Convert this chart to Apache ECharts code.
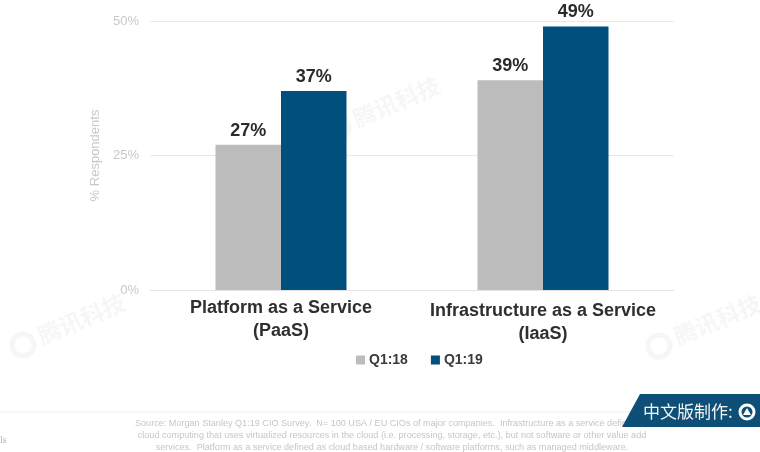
<!DOCTYPE html>
<html>
<head>
<meta charset="utf-8">
<style>html,body{margin:0;padding:0;background:#fff}#c{width:760px;height:452px}</style>
<script src="https://cdn.jsdelivr.net/npm/echarts@6/dist/echarts.min.js"></script>
</head>
<body>
<div id="c"></div>
<script>
const categories = ['Platform as a Service\n(PaaS)', 'Infrastructure as a Service\n(IaaS)'];
const q118 = [27, 39];
const q119 = [37, 49];
const yTicks = [0, 25, 50];
const sourceLines = [
  'Source: Morgan Stanley Q1:19 CIO Survey.  N= 100 USA / EU CIOs of major companies.  Infrastructure as a service defined as',
  'cloud computing that uses virtualized resources in the cloud (i.e. processing, storage, etc.), but not software or other value add',
  'services.  Platform as a service defined as cloud based hardware / software platforms, such as managed middleware.'
];
const FONT = '"Liberation Sans", Arial, sans-serif';
const labelOffsets = [0, 3];

// Faint diagonal publisher mark
function stamp(x, y) {
  const ink = 'rgba(120,120,120,0.065)';
  return {
    type: 'group', x, y, rotation: 0.4, silent: true, z: 20,
    children: [
      { type: 'circle', shape: { cx: 0, cy: 0, r: 11 }, style: { fill: 'none', stroke: ink, lineWidth: 5 } },
      { type: 'text', style: { x: 18, y: -13, text: '腾讯科技', font: '700 23px "Noto Sans CJK SC"', fill: ink } }
    ]
  };
}

const chart = echarts.init(document.getElementById('c'), null, { renderer: 'canvas' });
chart.setOption({
  animation: false,
  backgroundColor: '#fff',
  grid: { left: 150, right: 86, top: 21, bottom: 162 },
  legend: {
    top: 348, left: 351, itemWidth: 9, itemHeight: 9, itemGap: 23,
    icon: 'rect', selectedMode: false,
    textStyle: { fontFamily: FONT, fontWeight: 700, fontSize: 14, color: '#3a3a3a', padding: [0, 0, 0, -1] },
    data: ['Q1:18', 'Q1:19']
  },
  xAxis: {
    type: 'category',
    data: categories.map((value, i) => ({ value, textStyle: { padding: [labelOffsets[i], 0, 0, 0] } })),
    axisTick: { show: false },
    axisLine: { lineStyle: { color: '#e4e4e4', width: 1 } },
    axisLabel: {
      interval: 0, margin: 7, lineHeight: 23,
      fontFamily: FONT, fontWeight: 700, fontSize: 18, color: '#2f2f2f'
    }
  },
  yAxis: {
    type: 'value', min: yTicks[0], max: yTicks[2], interval: 25,
    name: '% Respondents', nameLocation: 'middle', nameGap: 45, nameRotate: 90,
    nameTextStyle: { fontFamily: FONT, fontSize: 13, color: '#c8c8c8' },
    axisLine: { show: false }, axisTick: { show: false },
    axisLabel: { formatter: '{value}%', margin: 11, padding: [4, 0, 0, 0], fontFamily: FONT, fontSize: 13, color: '#c8c8c8' },
    splitLine: { lineStyle: { color: '#e8e8e8', width: 1 } }
  },
  series: [
    { name: 'Q1:18', type: 'bar', data: q118, barWidth: 65.5, barGap: 0, itemStyle: { color: '#bcbcbc' } },
    { name: 'Q1:19', type: 'bar', data: q119, barWidth: 65.5, barGap: 0, itemStyle: { color: '#004f7c' } }
  ].map(s => Object.assign(s, {
    label: {
      show: true, position: 'top', distance: 5, formatter: '{c}%',
      fontFamily: FONT, fontWeight: 700, fontSize: 18, color: '#2b2b2b'
    }
  })),
  graphic: [
    stamp(23, 345), stamp(338, 128), stamp(659, 346),
    { type: 'line', shape: { x1: 0, y1: 412, x2: 640, y2: 412 }, style: { stroke: '#f2f2f2', lineWidth: 1 }, silent: true },
    { type: 'text', style: { x: 0, y: 435, text: 'ls', font: '10px "Liberation Serif"', fill: '#b5b5b5' }, silent: true },
    ...sourceLines.map((t, i) => ({
      type: 'text',
      style: { x: 392, y: 419 + i * 12, text: t, textAlign: 'center', font: '9.1px ' + FONT, fill: '#c6c6c6' },
      silent: true
    })),
    // Translation credit badge
    { type: 'polygon', shape: { points: [[640, 394], [760, 394], [760, 427], [622, 427]] }, style: { fill: '#0d4f76' }, z: 30, silent: true },
    { type: 'text', style: { x: 643, y: 403, text: '中文版制作:', font: '400 17px "Noto Sans CJK SC"', fill: '#f4f4f4' }, z: 31, silent: true },
    { type: 'circle', shape: { cx: 747, cy: 412, r: 7 }, style: { fill: 'none', stroke: '#fff', lineWidth: 3 }, z: 31, silent: true },
    { type: 'polygon', shape: { points: [[747, 408], [751, 415], [743, 415]] }, style: { fill: '#fff' }, z: 31, silent: true }
  ]
});
</script>
</body>
</html>
